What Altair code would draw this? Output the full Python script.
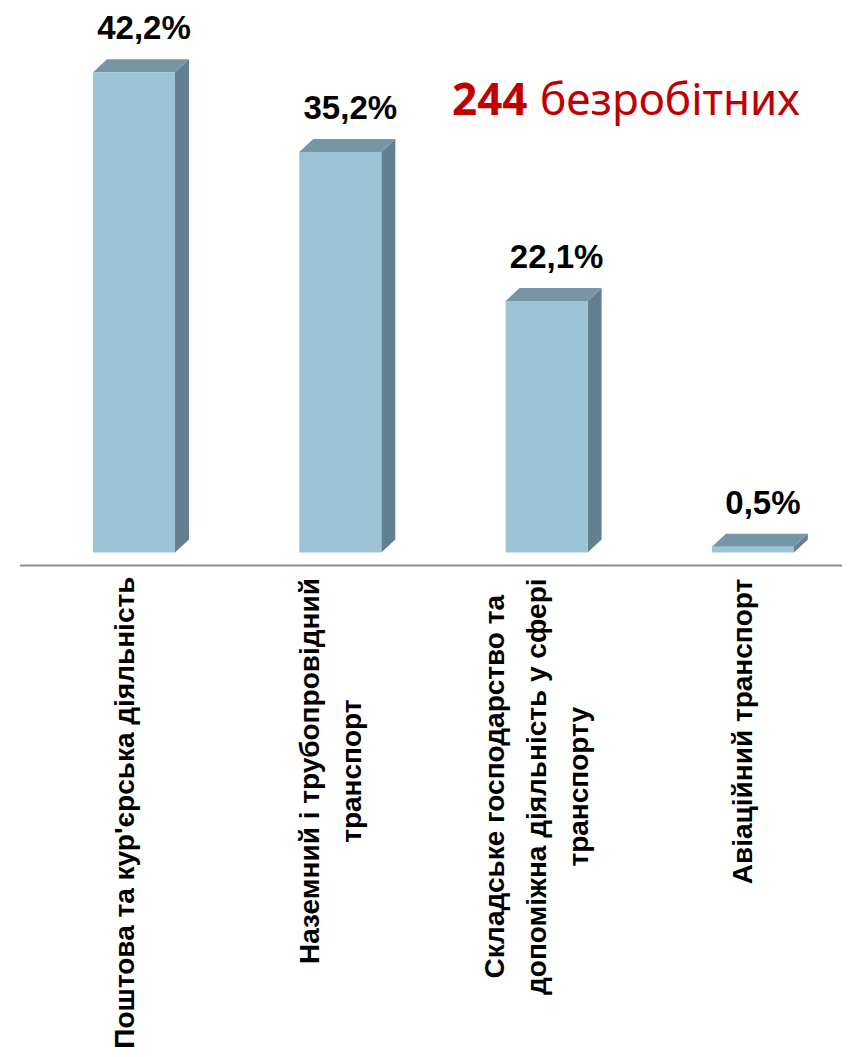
import altair as alt
import pandas as pd

# ---- data ----
categories = [
    "Поштова та кур'єрська діяльність",
    "Наземний і трубопровідний\nтранспорт",
    "Складське господарство та\nдопоміжна діяльність у сфері\nтранспорту",
    "Авіаційний транспорт",
]
shares = [42.2, 35.2, 22.1, 0.5]
total_number = "244"
total_word = "безробітних"

# ---- layout / style ----
W, H = 834, 1041
PX_PER_X = 206.3          # px between category centres
PX_PER_Y = 11.38          # px per percentage point
X0_PX = 126               # px of first bar centre
Y0_PX = 544.5             # px of zero line
x_dom = [-X0_PX / PX_PER_X, (W - X0_PX) / PX_PER_X]
y_dom = [-(H - Y0_PX) / PX_PER_Y, Y0_PX / PX_PER_Y]
HALF = 41 / PX_PER_X      # half front width
DX = 14 / PX_PER_X        # 3D depth (x)
DY = 13 / PX_PER_Y        # 3D depth (y)
LABEL_SHIFT = -8.5 / PX_PER_X
LABEL_END = -(571 - Y0_PX) / PX_PER_Y
AXIS_START = (12 - X0_PX) / PX_PER_X
LABEL_FONT_SIZE = 28
LINE_H = 42

FRONT = "#9DC3D6"
TOP = "#7796A5"
SIDE = "#62808D"
RED = "#C00000"

xs = alt.Scale(domain=x_dom, nice=False, zero=False)
ys = alt.Scale(domain=y_dom, nice=False, zero=False)

# approximate glyph widths (Arial/Liberation Sans Bold, per 1000 em)
GW = {' ': 278, "'": 238, ',': 278, '%': 889,
      'А': 722, 'Б': 722, 'В': 722, 'Г': 611, 'Д': 722, 'Е': 667, 'Є': 722, 'Ж': 1000,
      'З': 667, 'И': 722, 'І': 278, 'Ї': 278, 'Й': 722, 'К': 722, 'Л': 722, 'М': 833,
      'Н': 722, 'О': 778, 'П': 722, 'Р': 667, 'С': 722, 'Т': 611, 'У': 667, 'Ф': 833,
      'Х': 667, 'Ц': 722, 'Ч': 667, 'Ш': 1000, 'Щ': 1000, 'Ь': 667, 'Ю': 1000, 'Я': 722,
      'а': 556, 'б': 611, 'в': 556, 'г': 389, 'ґ': 389, 'д': 611, 'е': 556, 'є': 556,
      'ж': 833, 'з': 500, 'и': 611, 'і': 278, 'ї': 278, 'й': 611, 'к': 500, 'л': 611,
      'м': 722, 'н': 611, 'о': 611, 'п': 611, 'р': 611, 'с': 556, 'т': 500, 'у': 556,
      'ф': 889, 'х': 556, 'ц': 611, 'ч': 556, 'ш': 889, 'щ': 889, 'ь': 556, 'ю': 833,
      'я': 556}


def text_px(s, size):
    return sum(GW.get(c, 600) for c in s) / 1000 * size


# ---- tables ----
front = pd.DataFrame({
    "x": [i - HALF for i in range(len(shares))],
    "x2": [i + HALF for i in range(len(shares))],
    "y": [0.0] * len(shares),
    "y2": shares,
})

top_rows, side_rows = [], []
for i, v in enumerate(shares):
    top_rows += [
        {"bar": i, "x": i - HALF, "lo": v, "hi": v},
        {"bar": i, "x": i - HALF + DX, "lo": v, "hi": v + DY},
        {"bar": i, "x": i + HALF, "lo": v, "hi": v + DY},
        {"bar": i, "x": i + HALF + DX, "lo": v + DY, "hi": v + DY},
    ]
    side_rows += [
        {"bar": i, "x": i + HALF, "lo": 0.0, "hi": v},
        {"bar": i, "x": i + HALF + DX, "lo": DY, "hi": v + DY},
    ]
top = pd.DataFrame(top_rows)
side = pd.DataFrame(side_rows)

vals = pd.DataFrame({
    "x": list(range(len(shares))),
    "y": shares,
    "t": [f"{v:.1f}".replace(".", ",") + "%" for v in shares],
})

# rotated multi-line labels: lines run to the right, so centre the block on the category
cats = pd.DataFrame({
    "x": [i + LABEL_SHIFT - (len(c.split("\n")) - 1) * LINE_H / 2 / PX_PER_X
          for i, c in enumerate(categories)],
    "y": [LABEL_END - max(text_px(l, LABEL_FONT_SIZE) for l in c.split("\n")) / 2 / PX_PER_Y
          for c in categories],
    "t": categories,
})

axis_df = pd.DataFrame({"x": [AXIS_START], "x2": [x_dom[1]], "y": [-DY]})

# ---- layers ----
front_l = alt.Chart(front).mark_rect(color=FRONT).encode(
    x=alt.X("x:Q", scale=xs, axis=None), x2="x2:Q",
    y=alt.Y("y:Q", scale=ys, axis=None), y2="y2:Q")

top_l = alt.Chart(top).mark_area(color=TOP, opacity=1).encode(
    x=alt.X("x:Q", scale=xs, axis=None),
    y=alt.Y("lo:Q", scale=ys, axis=None), y2="hi:Q",
    detail="bar:N")

side_l = alt.Chart(side).mark_area(color=SIDE, opacity=1).encode(
    x=alt.X("x:Q", scale=xs, axis=None),
    y=alt.Y("lo:Q", scale=ys, axis=None), y2="hi:Q",
    detail="bar:N")

axis_l = alt.Chart(axis_df).mark_rule(color="#8C8C8C", strokeWidth=2).encode(
    x=alt.X("x:Q", scale=xs, axis=None), x2="x2:Q",
    y=alt.Y("y:Q", scale=ys, axis=None))

val_l = alt.Chart(vals).mark_text(
    font="Liberation Sans", fontWeight="bold", fontSize=33, color="#000000",
    align="center", baseline="alphabetic", dx=10, dy=-33).encode(
    x=alt.X("x:Q", scale=xs, axis=None),
    y=alt.Y("y:Q", scale=ys, axis=None), text="t:N")

cat_l = alt.Chart(cats).mark_text(
    font="Liberation Sans", fontWeight="bold", fontSize=LABEL_FONT_SIZE, color="#000000",
    align="center", baseline="middle", angle=270, lineBreak="\n", lineHeight=LINE_H).encode(
    x=alt.X("x:Q", scale=xs, axis=None),
    y=alt.Y("y:Q", scale=ys, axis=None), text="t:N")

num_l = alt.Chart(pd.DataFrame({"t": [total_number]})).mark_text(
    font="Noto Sans", fontWeight="bold", fontSize=44, color=RED,
    align="left", baseline="alphabetic").encode(
    x=alt.value(444), y=alt.value(107), text="t:N")

word_l = alt.Chart(pd.DataFrame({"t": [total_word]})).mark_text(
    font="Noto Sans", fontWeight="normal", fontSize=44, color=RED,
    align="left", baseline="alphabetic").encode(
    x=alt.value(532), y=alt.value(107), text="t:N")

chart = alt.layer(axis_l, side_l, top_l, front_l, val_l, cat_l, num_l, word_l).properties(
    width=W, height=H, padding=0, autosize="none"
).configure_view(stroke=None)

chart.save("out.html", embed_options={"renderer": "svg", "actions": False})
